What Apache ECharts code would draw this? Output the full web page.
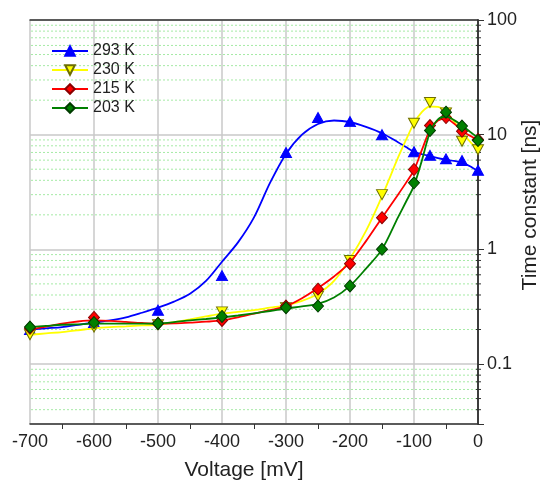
<!DOCTYPE html>
<html>
<head>
<meta charset="utf-8">
<script src="https://cdn.jsdelivr.net/npm/echarts@6.0.0/dist/echarts.min.js"></script>
<style>
  html, body { margin: 0; padding: 0; background: #fff; }
  #main { width: 547px; height: 481px; }
</style>
</head>
<body>
<div id="main"></div>
<script>
// measured points (voltage in mV, time constant in ns)
var ptX = [-700, -600, -500, -400, -300, -250, -200, -150, -100, -75, -50, -25, 0];
var pt293 = [0.20, 0.23, 0.295, 0.59, 7.0, 14.1, 13.0, 10.0, 7.1, 6.6, 6.15, 5.95, 4.9];
var pt230 = [0.18, 0.21, 0.22, 0.285, 0.31, 0.39, 0.80, 3.0, 12.6, 19.1, 15.5, 8.75, 7.4];
var pt215 = [0.205, 0.255, 0.226, 0.24, 0.32, 0.45, 0.75, 1.89, 4.97, 12.0, 14.1, 10.7, 9.1];
var pt203 = [0.21, 0.23, 0.226, 0.26, 0.31, 0.32, 0.48, 1.0, 3.8, 10.9, 15.7, 11.9, 8.9];

// fitted curves
var fitX = [-700, -675, -650, -625, -600, -575, -550, -525, -500, -475, -450, -425, -400, -375,
  -350, -325, -300, -275, -250, -225, -200, -175, -150, -125, -112.5, -100, -87.5, -75, -62.5,
  -50, -37.5, -25, -12.5, 0];
var fit293 = [0.20, 0.205, 0.21, 0.22, 0.23, 0.24, 0.255, 0.28, 0.31, 0.35, 0.41, 0.53, 0.78, 1.15,
  1.9, 3.8, 6.8, 10.0, 12.4, 13.3, 12.9, 11.7, 10.3, 8.6, 7.8, 7.1, 6.75, 6.5, 6.25,
  6.05, 5.9, 5.7, 5.3, 4.8];
var fit230 = [0.18, 0.185, 0.19, 0.197, 0.205, 0.21, 0.213, 0.217, 0.22, 0.232, 0.245, 0.26, 0.275, 0.285,
  0.295, 0.31, 0.325, 0.355, 0.41, 0.53, 0.83, 1.45, 2.9, 6.3, 9.0, 12.6, 15.8, 17.6, 17.5,
  15.8, 13.0, 10.5, 8.7, 7.4];
var fit215 = [0.20, 0.212, 0.225, 0.235, 0.24, 0.238, 0.233, 0.228, 0.225, 0.226, 0.23, 0.234, 0.24, 0.255,
  0.275, 0.295, 0.32, 0.375, 0.46, 0.58, 0.77, 1.18, 1.89, 3.0, 3.8, 4.9, 7.4, 11.0, 13.3,
  13.8, 12.5, 10.8, 9.8, 9.0];
var fit203 = [0.21, 0.215, 0.22, 0.222, 0.225, 0.225, 0.225, 0.225, 0.226, 0.232, 0.24, 0.247, 0.255, 0.265,
  0.277, 0.29, 0.305, 0.318, 0.335, 0.38, 0.48, 0.68, 1.0, 1.9, 2.6, 3.6, 6.0, 10.5, 13.6,
  14.4, 13.4, 12.0, 10.6, 9.4];

var names = ['293 K', '230 K', '215 K', '203 K'];
var minorVals = [0.04, 0.05, 0.06, 0.07, 0.08, 0.09, 0.2, 0.3, 0.4, 0.5, 0.6, 0.7, 0.8, 0.9,
  2, 3, 4, 5, 6, 7, 8, 9, 20, 30, 40, 50, 60, 70, 80, 90];

var FONT = 'Liberation Sans, Arial, sans-serif';

function pairs(xs, ys) {
  return xs.map(function (x, i) { return [x, ys[i]]; });
}

var styles = [
  { color: '#0000ff', border: '#0000ff', symbol: 'triangle', size: [11, 10], rotate: 0 },
  { color: '#ffff00', border: '#6e6e00', symbol: 'triangle', size: [11, 10], rotate: 180 },
  { color: '#ff0000', border: '#8b0000', symbol: 'diamond', size: [11, 12], rotate: 0 },
  { color: '#008000', border: '#003c00', symbol: 'diamond', size: [11, 12], rotate: 0 }
];
var fits = [fit293, fit230, fit215, fit203];
var pts = [pt293, pt230, pt215, pt203];

var series = [];

// light green dashed minor grid + right minor ticks
series.push({
  type: 'custom',
  silent: true,
  clip: false,
  z: 1,
  data: minorVals.map(function (v) { return [0, v]; }),
  renderItem: function (params, api) {
    var v = api.value(1);
    var a = api.coord([-700, v]);
    var b = api.coord([0, v]);
    return {
      type: 'group',
      children: [
        { type: 'line', shape: { x1: a[0] + 1, y1: a[1], x2: b[0] - 1, y2: b[1] },
          style: { stroke: '#a6eaa6', lineWidth: 1, lineDash: [2, 2] } },
        { type: 'line', shape: { x1: b[0] - 2, y1: b[1], x2: b[0] + 3, y2: b[1] },
          style: { stroke: '#333', lineWidth: 1 } }
      ]
    };
  }
});

styles.forEach(function (s, i) {
  series.push({
    name: names[i],
    type: 'line',
    data: pairs(fitX, fits[i]),
    smooth: 0.3,
    showSymbol: false,
    symbol: s.symbol,
    symbolRotate: s.rotate,
    symbolSize: s.size,
    silent: true,
    z: 2 + i * 2,
    lineStyle: { color: s.color, width: 1.8 },
    itemStyle: { color: s.color, borderColor: s.border, borderWidth: 1 }
  });
  series.push({
    name: names[i],
    type: 'scatter',
    data: pairs(ptX, pts[i]),
    symbol: s.symbol,
    symbolRotate: s.rotate,
    symbolSize: s.size,
    z: 3 + i * 2,
    itemStyle: { color: s.color, borderColor: s.border, borderWidth: 1, opacity: 1 }
  });
});

var myChart = echarts.init(document.getElementById('main'));

var option = {
  backgroundColor: '#fff',
  animation: false,
  textStyle: { fontFamily: FONT },
  grid: { left: 30, right: 69, top: 20, bottom: 57, containLabel: false, outerBoundsMode: 'none' },
  legend: {
    data: names,
    orient: 'vertical',
    left: 51,
    top: 43,
    padding: 0,
    itemWidth: 36,
    itemHeight: 12,
    itemGap: 3,
    textStyle: { fontSize: 16, color: '#222', fontFamily: FONT }
  },
  xAxis: [{
    type: 'value',
    min: -700,
    max: 0,
    interval: 100,
    position: 'bottom',
    axisLine: { lineStyle: { color: '#333', width: 1.5 } },
    axisTick: { show: false },
    minorTick: { show: true, splitNumber: 2, length: 5, lineStyle: { color: '#333', width: 1 } },
    splitLine: { show: true, lineStyle: { color: '#c8c8c8', width: 1.5 } },
    axisLabel: { fontSize: 18, color: '#222', margin: 9, fontFamily: FONT },
    name: 'Voltage [mV]',
    nameLocation: 'middle',
    nameGap: 36,
    nameTextStyle: { fontSize: 21, color: '#222', padding: [0, 20, 0, 0], fontFamily: FONT }
  }, {
    type: 'value',
    min: -700,
    max: 0,
    position: 'top',
    axisLine: { show: true, lineStyle: { color: '#333', width: 1.5 } },
    axisTick: { show: false },
    axisLabel: { show: false },
    splitLine: { show: false }
  }],
  yAxis: [{
    type: 'log',
    min: 0.03,
    max: 100,
    position: 'right',
    axisLine: { show: true, lineStyle: { color: '#333', width: 1.5 } },
    axisTick: { show: true, length: 6, lineStyle: { color: '#333', width: 1 } },
    axisLabel: { fontSize: 18, color: '#222', margin: 9, showMinLabel: false, fontFamily: FONT },
    splitLine: { show: true, lineStyle: { color: '#c8c8c8', width: 1.5 } },
    name: 'Time constant [ns]',
    nameLocation: 'middle',
    nameRotate: 90,
    nameGap: 42,
    nameMoveOverlap: false,
    nameTextStyle: { fontSize: 21, color: '#222', padding: [0, 0, 0, 34], fontFamily: FONT }
  }, {
    type: 'log',
    min: 0.03,
    max: 100,
    position: 'left',
    axisLine: { show: true, lineStyle: { color: '#333', width: 1.5 } },
    axisTick: { show: true, inside: true, length: 6, lineStyle: { color: '#333', width: 1 } },
    axisLabel: { show: false },
    splitLine: { show: false }
  }],
  series: series
};

myChart.setOption(option);
</script>
</body>
</html>
